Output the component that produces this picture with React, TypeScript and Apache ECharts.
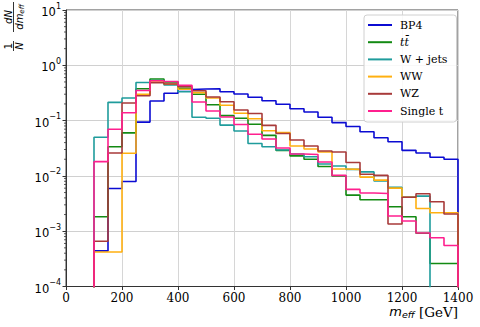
import React, { useEffect, useRef } from "react";
import * as echarts from "echarts";

// Histogram bin edges (GeV)
const binEdges = [100, 150, 200, 250, 300, 350, 400, 450, 500, 550, 600, 650, 700, 750, 800, 850, 900, 950, 1000, 1050, 1100, 1150, 1200, 1250, 1300, 1350, 1400];

const seriesNames = ["BP4", "tt̄", "W + jets", "WW", "WZ", "Single t"];
const seriesColors = ["#0b0bd2", "#138a13", "#1f9c9c", "#ffb010", "#a83a3a", "#ff1f8e"];

// normalised 1/N dN/dm_eff per bin
const bp4 = [4.4e-4, 5.9e-3, 7.9e-3, 0.094, 0.226, 0.312, 0.365, 0.372, 0.377, 0.333, 0.303, 0.264, 0.229, 0.197, 0.164, 0.143, 0.115, 0.092, 0.078, 0.063, 0.049, 0.0415, 0.029, 0.026, 0.0217, 0.02];
const ttbar = [1.83e-3, 0.0337, 0.06, 0.377, 0.565, 0.5, 0.384, 0.3, 0.194, 0.123, 0.11, 0.086, 0.054, 0.029, 0.023, 0.02, 0.0148, 0.01, 4.5e-3, 3.7e-3, 3.7e-3, 2.77e-3, 1.83e-3, 9.2e-4, 2.6e-4, 2.6e-4];
const wjets = [0.05, 0.214, 0.256, 0.489, 0.531, 0.44, 0.333, 0.115, 0.11, 0.083, 0.065, 0.0385, 0.0337, 0.0294, 0.0249, 0.0222, 0.0164, 0.0151, 0.0131, 0.0118, 8.1e-3, 6.2e-3, 4.15e-3, 4.3e-3, 0, 0];
const ww = [4.2e-4, 4.2e-4, 0.0256, 0.3, 0.5, 0.46, 0.368, 0.32, 0.256, 0.189, 0.136, 0.108, 0.0657, 0.0609, 0.0347, 0.0306, 0.027, 0.0133, 0.0131, 9.5e-3, 8.4e-3, 6.0e-3, 4.1e-3, 2.57e-3, 2.16e-3, 2.16e-3];
const wz = [6.6e-4, 0.026, 0.208, 0.282, 0.484, 0.459, 0.41, 0.347, 0.267, 0.219, 0.155, 0.134, 0.082, 0.0585, 0.0446, 0.0347, 0.0282, 0.027, 0.0175, 0.0107, 0.0102, 1.35e-3, 4.1e-3, 4.75e-3, 3.4e-3, 2.05e-3];
const singleT = [0.0181, 0.0697, 0.139, 0.35, 0.527, 0.509, 0.435, 0.217, 0.149, 0.116, 0.085, 0.0565, 0.0465, 0.032, 0.0249, 0.0244, 0.0178, 0.0102, 5.7e-3, 4.9e-3, 4.8e-3, 1.88e-3, 1.53e-3, 9.3e-4, 7.6e-4, 5.5e-4];

const allSeries = [bp4, ttbar, wjets, ww, wz, singleT];

const yMin = 1e-4;
const yMax = 10;
const yDecades = [-4, -3, -2, -1, 0, 1];
const xTickLabels = [0, 200, 400, 600, 800, 1000, 1200, 1400];

const FLOOR = 1e-8;

function stepData(values: number[]) {
  const v = values.map((x) => (x > 0 ? x : FLOOR));
  const last = binEdges[binEdges.length - 1];
  const pts: number[][] = [[binEdges[0], FLOOR]];
  v.forEach((val, i) => pts.push([binEdges[i], val]));
  pts.push([last, v[v.length - 1]]);
  pts.push([last, FLOOR]);
  return pts;
}

function minorTicks() {
  const out: number[][] = [];
  for (let i = 0; i < yDecades.length - 1; i++) {
    const base = Math.pow(10, yDecades[i]);
    for (let k = 2; k <= 9; k++) out.push([0, base * k]);
  }
  return out;
}

export default function App() {
  const ref = useRef<HTMLDivElement>(null);
  useEffect(() => {
    if (!ref.current) return;
    const chart = echarts.init(ref.current, undefined, { renderer: "svg" });
    const italicSans = { fontFamily: "DejaVu Sans", fontStyle: "italic" as const };
    const option: any = {
      animation: false,
      backgroundColor: "#ffffff",
      grid: {
        left: 66,
        top: 10,
        width: 392,
        height: 276.5,
        show: true,
        borderColor: "#444",
        borderWidth: 1,
        backgroundColor: "transparent",
      },
      xAxis: {
        type: "value",
        min: xTickLabels[0],
        max: xTickLabels[xTickLabels.length - 1],
        interval: 200,
        axisLine: { lineStyle: { color: "#333", width: 1 } },
        axisTick: { show: true, length: 3.5, lineStyle: { color: "#333" } },
        axisLabel: {
          fontFamily: "DejaVu Serif",
          fontSize: 12,
          color: "#000",
          margin: 5,
          formatter: (v: number) => String(v),
        },
        splitLine: { show: true, lineStyle: { color: "#d6d6d6", width: 1 } },
      },
      yAxis: {
        type: "log",
        logBase: 10,
        min: yMin,
        max: yMax,
        axisLine: { show: true, lineStyle: { color: "#333", width: 1 } },
        axisTick: { show: true, length: 3.5, lineStyle: { color: "#333" } },
        axisLabel: {
          margin: 5,
          formatter: (v: number) => {
            const e = Math.round(Math.log10(v));
            return `{b|10}{s|${e < 0 ? "−" : ""}${Math.abs(e)}}`;
          },
          rich: {
            b: { fontFamily: "DejaVu Sans", fontSize: 11.5, color: "#000", lineHeight: 16, verticalAlign: "bottom" },
            s: { fontFamily: "DejaVu Sans", fontSize: 8, color: "#000", lineHeight: 7, verticalAlign: "top" },
          },
        },
        splitLine: { show: true, lineStyle: { color: "#d0d0d0", width: 1 } },
      },
      legend: {
        data: seriesNames,
        orient: "vertical",
        left: 364,
        top: 15,
        padding: [3, 9, 4, 4],
        itemGap: 3.2,
        itemWidth: 24,
        itemHeight: 2,
        icon: "rect",
        backgroundColor: "rgba(255,255,255,0.85)",
        borderColor: "#d0d0d0",
        borderWidth: 1,
        borderRadius: 3,
        textStyle: {
          fontFamily: "DejaVu Serif",
          fontSize: 11,
          color: "#000",
          lineHeight: 14,
          padding: [0, 0, 0, 3],
          rich: {
            i: { fontFamily: "DejaVu Serif", fontStyle: "italic", fontSize: 11, lineHeight: 14, color: "#000" },
          },
        },
        formatter: (name: string) => (name === "tt̄" ? "{i|tt̄}" : name),
      },
      series: [
        ...allSeries.map((vals, i) => ({
          name: seriesNames[i],
          type: "line",
          step: "end",
          data: stepData(vals),
          showSymbol: false,
          symbol: "none",
          clip: true,
          color: seriesColors[i],
          lineStyle: { color: seriesColors[i], width: 1.6 },
          z: 2 + i * 0.01,
        })),
        {
          name: "minor",
          type: "custom",
          clip: false,
          silent: true,
          data: minorTicks(),
          renderItem: (params: any, api: any) => {
            const p = api.coord([0, api.value(1)]);
            return {
              type: "line",
              shape: { x1: p[0] - 2, y1: p[1], x2: p[0], y2: p[1] },
              style: { stroke: "#333", lineWidth: 0.8 },
            };
          },
          z: 5,
        },
      ],
      graphic: [
        {
          type: "text",
          x: 458,
          y: 312,
          style: {
            text: "{m|m}{s|eff}{g| [GeV]}",
            align: "right",
            verticalAlign: "middle",
            rich: {
              m: { ...italicSans, fontSize: 13, lineHeight: 15, verticalAlign: "top", fill: "#000" },
              s: { ...italicSans, fontSize: 9.5, lineHeight: 9, verticalAlign: "bottom", fill: "#000" },
              g: { fontFamily: "DejaVu Serif", fontSize: 13.5, lineHeight: 15, verticalAlign: "top", fill: "#000" },
            },
          },
        },
        {
          type: "group",
          x: 13.5,
          y: 27,
          rotation: Math.PI / 2,
          children: [
            { type: "text", x: -19, y: -5.5, style: { text: "1", fontFamily: "DejaVu Sans", fontSize: 10, align: "center", verticalAlign: "middle", fill: "#000" } },
            { type: "line", shape: { x1: -24, y1: 0, x2: -14, y2: 0 }, style: { stroke: "#000", lineWidth: 0.8 } },
            { type: "text", x: -19, y: 6, style: { text: "N", ...italicSans, fontSize: 10, align: "center", verticalAlign: "middle", fill: "#000" } },
            { type: "text", x: 10, y: -5.5, style: { text: "dN", ...italicSans, fontSize: 10, align: "center", verticalAlign: "middle", fill: "#000" } },
            { type: "line", shape: { x1: -5, y1: 0, x2: 25, y2: 0 }, style: { stroke: "#000", lineWidth: 0.8 } },
            {
              type: "text",
              x: 10,
              y: 6.5,
              style: {
                text: "{a|dm}{b|eff}",
                align: "center",
                verticalAlign: "middle",
                rich: {
                  a: { ...italicSans, fontSize: 10, lineHeight: 11, verticalAlign: "top", fill: "#000" },
                  b: { ...italicSans, fontSize: 7, lineHeight: 7, verticalAlign: "bottom", fill: "#000" },
                },
              },
            },
          ],
        },
      ],
    };
    chart.setOption(option);
    return () => chart.dispose();
  }, []);
  return <div ref={ref} style={{ position: "absolute", left: 0, top: 0, width: 480, height: 327 }} />;
}
